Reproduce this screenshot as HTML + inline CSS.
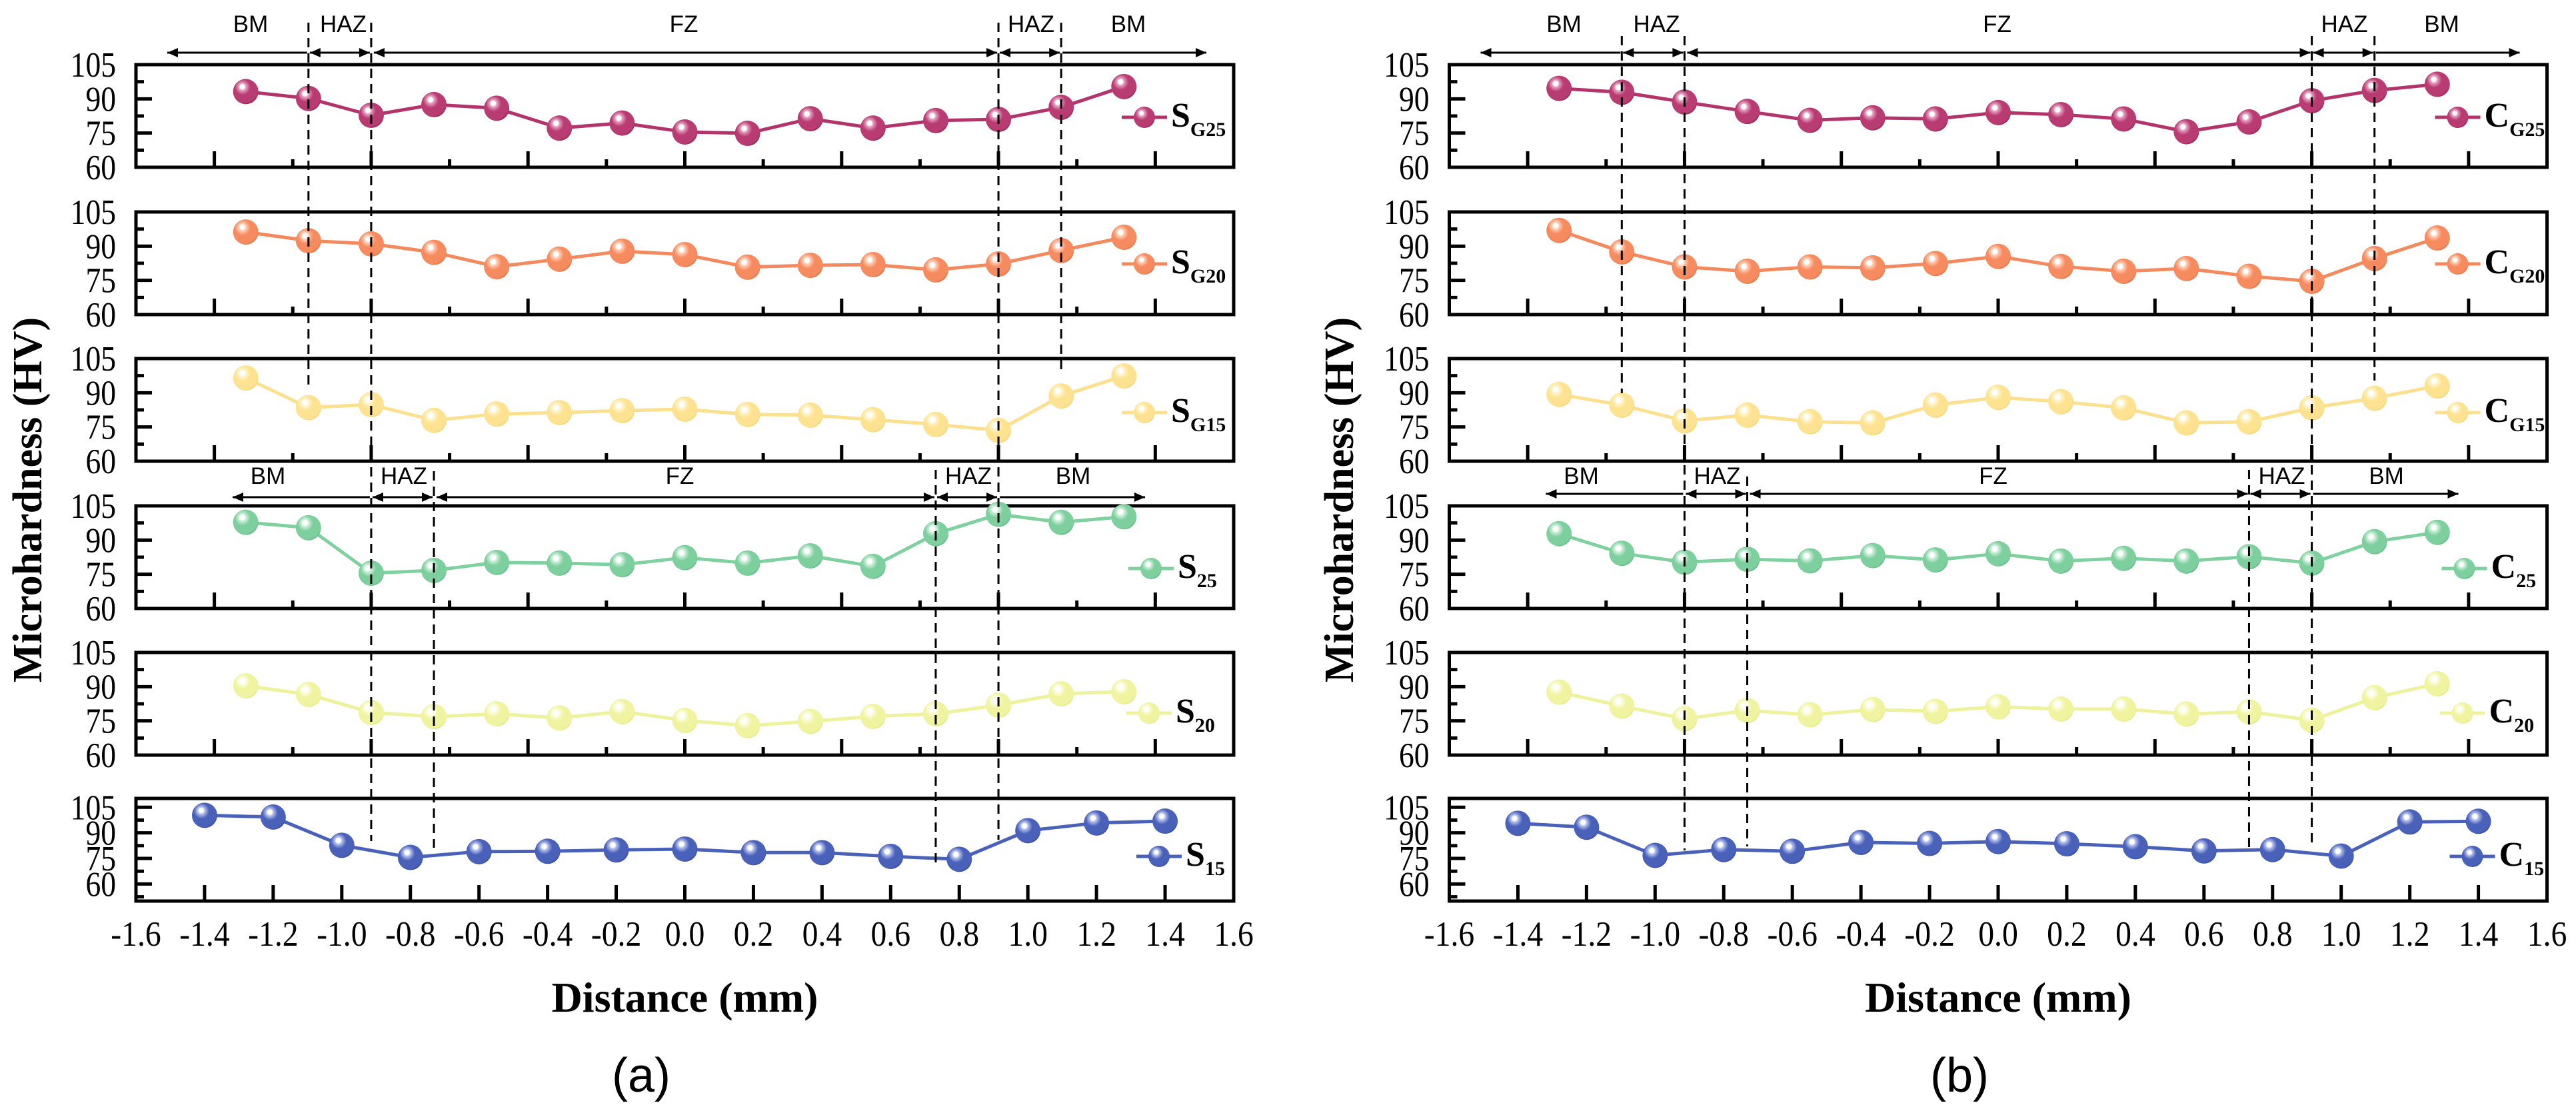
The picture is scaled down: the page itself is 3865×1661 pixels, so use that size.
<!DOCTYPE html>
<html><head><meta charset="utf-8"><style>
html,body{margin:0;padding:0;background:#fff;}
svg{display:block;}
</style></head><body>
<svg id="chart" xmlns="http://www.w3.org/2000/svg" width="3865" height="1661" viewBox="0 0 3865 1661">
<defs id="defs"></defs>
</svg>
<script>
// ---------- data ----------
const upperX = [-1.4,-1.2,-1.0,-0.8,-0.6,-0.4,-0.2,0.0,0.2,0.4,0.6,0.8,1.0,1.2,1.4];
const bottomX = [-1.4,-1.2,-1.0,-0.8,-0.6,-0.4,-0.2,0.0,0.2,0.4,0.6,0.8,1.0,1.2,1.4];
const xTickLabels = ["-1.6","-1.4","-1.2","-1.0","-0.8","-0.6","-0.4","-0.2","0.0","0.2","0.4","0.6","0.8","1.0","1.2","1.4","1.6"];
const yTickLabels = ["105","90","75","60"];
const zoneBounds = [-1.2,-1.0,-0.8,0.8,1.0,1.2];

const sG25 = [93.2,90.2,82.8,87.5,85.9,77.2,79.4,75.5,74.9,81.3,77.2,80.5,81.0,86.3,95.4];
const sG20 = [96.2,92.4,91.0,87.3,81.0,84.3,87.8,86.3,80.8,81.6,81.9,79.6,82.2,88.1,93.9];
const sG15 = [96.5,83.5,84.8,77.9,80.7,81.3,82.2,82.8,80.5,80.2,78.2,76.1,73.5,88.6,97.4];
const s25  = [97.8,95.4,75.5,76.7,80.2,79.9,79.2,82.3,79.9,83.1,78.5,92.8,101.3,97.8,100.2];
const s20  = [90.4,86.6,78.7,76.9,78.1,76.3,79.1,75.2,72.9,74.8,77.0,78.1,81.9,86.9,87.8];
const s15  = [100.3,99.3,82.7,75.6,79.0,79.2,80.0,80.5,78.4,78.4,76.2,74.5,91.3,95.8,96.9];

const cG25 = [94.6,92.9,88.6,84.5,80.6,81.7,81.2,84.0,83.1,81.2,75.6,79.9,89.2,93.7,96.4];
const cG20 = [96.9,87.5,80.9,79.0,80.9,80.5,82.4,85.5,81.1,79.0,80.2,76.8,74.6,84.6,93.6];
const cG15 = [89.3,84.6,77.7,80.2,77.3,76.8,84.6,88.0,86.1,83.4,76.8,77.3,83.4,87.6,93.0];
const c25  = [92.8,84.2,80.3,81.6,80.9,83.2,81.3,84.0,80.8,82.0,80.8,82.7,79.9,89.3,93.4];
const c20  = [87.6,81.5,75.9,79.6,77.7,80.0,79.2,81.2,80.2,80.2,78.0,79.0,75.3,85.2,91.3];
const c15  = [95.6,93.3,76.8,80.2,79.2,84.4,83.8,84.9,83.6,81.9,79.4,80.2,76.4,96.4,96.8];

const subsA = ["G25","G20","G15","25","20","15"];
const colors = [
  {base:"#b83c72",light:"#e7a3c3",dark:"#8a1f4e",line:"#b3336b"},
  {base:"#f68b60",light:"#ffd0b8",dark:"#e06a3c",line:"#f4895d"},
  {base:"#fde391",light:"#fff5d0",dark:"#f3cf6c",line:"#fbe08d"},
  {base:"#7ecf9e",light:"#d2f1de",dark:"#5db683",line:"#80d1a0"},
  {base:"#f0f4a0",light:"#fcfde0",dark:"#dfe67d",line:"#eef29b"},
  {base:"#4a61b9",light:"#b8c4ee",dark:"#34489a",line:"#4a61b9"}
];

// ---------- layout ----------
const NS = "http://www.w3.org/2000/svg";
const svg = document.getElementById('chart');
const defs = document.getElementById('defs');
const panelTops = [97,318,538,759,979,1198];
const PH = 154, PW = 1647;
const legendDy = [79,78,81,94,91,87];
const legendDx = [-134,-134,-134,-124,-127,-112];

function mk(tag, attrs, parent){
  const e = document.createElementNS(NS, tag);
  for (const k in attrs) e.setAttribute(k, attrs[k]);
  (parent||svg).appendChild(e);
  return e;
}

colors.forEach((c,i)=>{
  const g = mk('radialGradient',{id:'sph'+i,cx:'0.4',cy:'0.36',r:'0.68',fx:'0.36',fy:'0.3'},defs);
  mk('stop',{offset:'0','stop-color':'#ffffff'},g);
  mk('stop',{offset:'0.13','stop-color':'#ffffff'},g);
  mk('stop',{offset:'0.2','stop-color':c.light},g);
  mk('stop',{offset:'0.45','stop-color':c.base},g);
  mk('stop',{offset:'0.88','stop-color':c.base},g);
  mk('stop',{offset:'1','stop-color':c.dark},g);
});

function upX(left,v){ return left + (v+1.75)/3.5*PW; }
function botX(left,v){ return left + (v+1.6)/3.2*PW; }
function upY(top,v){ return top + (105-v)/45*PH; }
function botY(top,v){ return top + (110.2-v)/60.2*PH; }

function drawFigure(cfg){
  const L = cfg.left, R = L+PW;
  const fig = mk('g',{});
  
  

  cfg.series.forEach((vals,pi)=>{
    const top = panelTops[pi];
    const bottom = pi===5;
    const pg = mk('g',{},fig);
    
    
    const fx = v => bottom ? botX(L,v) : upX(L,v);
    const fy = v => bottom ? botY(top,v) : upY(top,v);
    const tg = mk('g',{stroke:'#000','stroke-width':5,fill:'none'},pg);
    if (!bottom){
      [-1.5,-1.25,-1,-0.75,-0.5,-0.25,0,0.25,0.5,0.75,1,1.25,1.5].forEach(t=>{
        const major = Math.abs(t*2-Math.round(t*2))<1e-6;
        const x = upX(L,t);
        mk('line',{x1:x,x2:x,y1:top+PH,y2:top+PH-(major?24:12)},tg);
      });
      [97.5,90,82.5,75,67.5].forEach(t=>{
        const major = (t===90||t===75);
        const y = upY(top,t);
        mk('line',{x1:L,x2:L+(major?24:12),y1:y,y2:y},tg);
      });
    } else {
      bottomX.forEach(t=>{
        const x = botX(L,t);
        mk('line',{x1:x,x2:x,y1:top+PH,y2:top+PH-24},tg);
      });
      [105,97.5,90,82.5,75,67.5,60,52.5].forEach(t=>{
        const major = (t%15===0);
        const y = botY(top,t);
        mk('line',{x1:L,x2:L+(major?24:12),y1:y,y2:y},tg);
      });
    }
    const fr = mk('rect',{x:L,y:top,width:PW,height:PH,fill:'none',stroke:'#000','stroke-width':5},pg);
    
    
    yTickLabels.forEach(lbl=>{
      const v = parseFloat(lbl);
      const ax = L-30, ay = fy(v)+18;
      const t = mk('text',{x:0,y:0,'text-anchor':'end','font-family':'"Liberation Serif",serif','font-size':53,transform:`translate(${ax},${ay}) scale(0.86,1)`},pg);
      t.textContent = lbl;
      
      
    });
    const xs = bottom ? bottomX : upperX;
    const pts = xs.map((x,i)=>fx(x).toFixed(1)+','+fy(vals[i]).toFixed(1)).join(' ');
    const pl = mk('polyline',{points:pts,fill:'none',stroke:colors[pi].line,'stroke-width':5,'stroke-linejoin':'round'},pg);
    
    
    xs.forEach((x,i)=>{
      const c = mk('circle',{cx:fx(x),cy:fy(vals[i]),r:19,fill:'url(#sph'+pi+')'},pg);
      
      
    });
    const lx = R + legendDx[pi], ly = top + legendDy[pi];
    const lg = mk('g',{},pg);
    
    
    mk('line',{x1:lx-34,x2:lx+34,y1:ly,y2:ly,stroke:colors[pi].line,'stroke-width':5},lg);
    mk('circle',{cx:lx,cy:ly,r:16,fill:'url(#sph'+pi+')'},lg);
    const lt = mk('text',{x:lx+40,y:ly+14,'font-family':'"Liberation Serif",serif','font-weight':'bold','font-size':52},lg);
    const ts1 = mk('tspan',{},lt); ts1.textContent = cfg.prefix;
    const ts2 = mk('tspan',{dy:14,'font-size':30},lt); ts2.textContent = subsA[pi];
  });

  xTickLabels.forEach(lbl=>{
    const ax = botX(L,parseFloat(lbl));
    const t = mk('text',{x:0,y:0,'text-anchor':'middle','font-family':'"Liberation Serif",serif','font-size':53,transform:`translate(${ax},1419) scale(0.9,1)`},fig);
    t.textContent = lbl;
    
    
  });

  cfg.dash.forEach((d,i)=>{
    const x = upX(L, zoneBounds[i]);
    const dl = mk('line',{x1:x,x2:x,y1:d[0],y2:d[1],stroke:'#000','stroke-width':3,'stroke-dasharray':'14,9'},fig);
    
    
  });

  function arrow(x1,x2,y,h1,h2){
    const g = mk('g',{},fig);
    
    
    mk('line',{x1:x1,x2:x2,y1:y,y2:y,stroke:'#000','stroke-width':3},g);
    if(h1) mk('polygon',{points:`${x1},${y} ${x1+16},${y-7} ${x1+16},${y+7}`,fill:'#000'},g);
    if(h2) mk('polygon',{points:`${x2},${y} ${x2-16},${y-7} ${x2-16},${y+7}`,fill:'#000'},g);
  }
  function zoneRow(y, ly, lo, hi, idxs, labelX){
    const b = idxs.map(i=>upX(L,zoneBounds[i]));
    const xs = [L+lo, b[0], b[1], b[2], b[3], L+hi];
    arrow(xs[0],xs[1]-2,y,true,false);
    arrow(xs[1]+2,xs[2]-2,y,true,true);
    arrow(xs[2]+4,xs[3]-2,y,true,true);
    arrow(xs[3]+2,xs[4]-2,y,true,true);
    arrow(xs[4]+2,xs[5],y,false,true);
    ["BM","HAZ","FZ","HAZ","BM"].forEach((s,i)=>{
      const t = mk('text',{x:L+labelX[i],y:ly+12,'text-anchor':'middle','font-family':'"Liberation Sans",sans-serif','font-size':35},fig);
      t.textContent = s;
      
      
    });
  }
  zoneRow(79, 36, 47, 1606, [0,1,4,5], [172,311,822,1343,1489]);
  zoneRow(cfg.row2y, 714, 145, 1514, [1,2,3,4], [198,402,816,1249,1406]);

  const xt = mk('text',{x:L+PW/2,y:1518,'text-anchor':'middle','font-family':'"Liberation Serif",serif','font-weight':'bold','font-size':64},fig);
  xt.textContent = 'Distance (mm)';
  
  
  const yt = mk('text',{x:0,y:0,'text-anchor':'middle','font-family':'"Liberation Serif",serif','font-weight':'bold','font-size':62,transform:`translate(${cfg.ytx},750) rotate(-90)`},fig);
  yt.textContent = 'Microhardness (HV)';
  
  
  const cap = mk('text',{x:cfg.capx,y:1638,'text-anchor':'middle','font-family':'"Liberation Sans",sans-serif','font-size':72},fig);
  cap.textContent = '('+cfg.letter+')';
  
  
}

drawFigure({name:'figure-a-s-series',letter:'a',prefix:'S',left:204,
  series:[sG25,sG20,sG15,s25,s20,s15],
  dash:[[34,580],[34,1262],[707,1272],[705,1300],[34,1260],[34,560]],
  row2y:746, ytx:62, capx:962});
drawFigure({name:'figure-b-c-series',letter:'b',prefix:'C',left:2174.5,
  series:[cG25,cG20,cG15,c25,c20,c15],
  dash:[[54,590],[54,1276],[715,1270],[705,1278],[54,1273],[54,571]],
  row2y:741, ytx:2030, capx:2940});
</script>
</body></html>
